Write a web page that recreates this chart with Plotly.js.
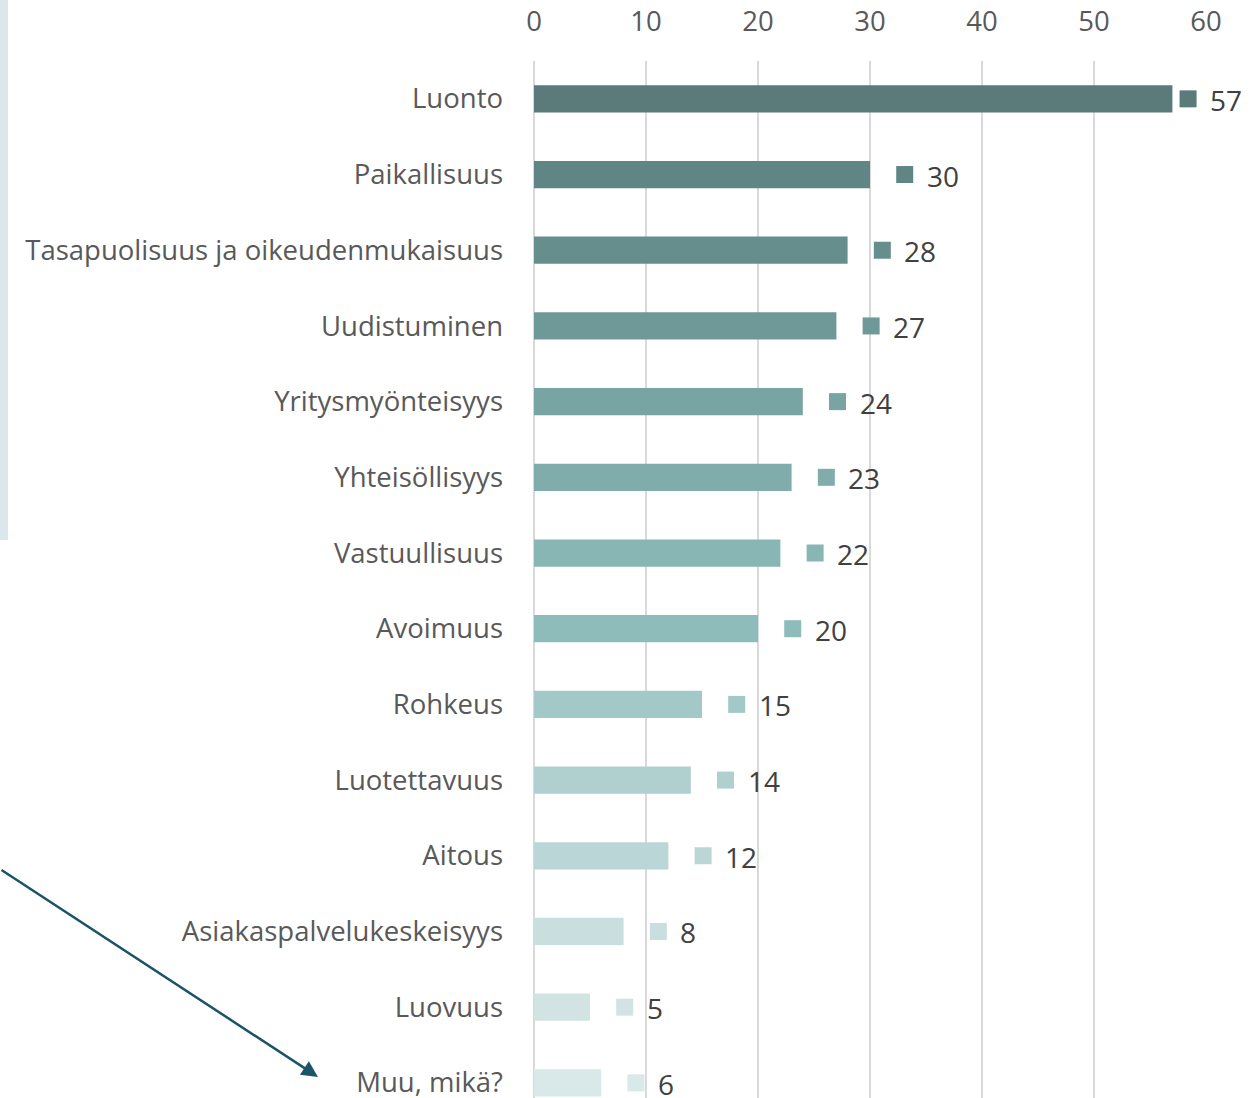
<!DOCTYPE html>
<html>
<head>
<meta charset="utf-8">
<script src="https://cdn.plot.ly/plotly-3.0.1.min.js"></script>
<style>html,body{margin:0;padding:0;background:#fff;}#chart{width:1255px;height:1098px;}</style>
</head>
<body>
<div id="chart"></div>
<script>
const categories = ["Luonto","Paikallisuus","Tasapuolisuus ja oikeudenmukaisuus","Uudistuminen","Yritysmyönteisyys","Yhteisöllisyys","Vastuullisuus","Avoimuus","Rohkeus","Luotettavuus","Aitous","Asiakaspalvelukeskeisyys","Luovuus","Muu, mikä?"];
const values = [57,30,28,27,24,23,22,20,15,14,12,8,5,6];
const colors = ["#5a7b7a","#5f8584","#668e8d","#6e9998","#78a4a3","#80adac","#87b6b5","#8ebcbb","#a3c8c8","#b0cfcf","#bbd6d6","#c9dfdf","#d2e3e3","#d9e8e8"];
const tickVals = [0,10,20,30,40,50,60];

const keyX = values.map(v => Math.min(v + 3.1, 58.4));

const bars = {
  type: 'bar', orientation: 'h',
  x: values, y: categories,
  marker: {color: colors},
  width: 0.36,
  hoverinfo: 'x+y'
};
const keys = {
  type: 'scatter', mode: 'markers',
  x: keyX, y: categories,
  marker: {symbol: 'square', size: 17, color: colors},
  cliponaxis: false,
  hoverinfo: 'skip'
};

const valueAnnotations = values.map((v, i) => ({
  xref: 'x', yref: 'y', x: keyX[i], y: categories[i],
  text: String(v), showarrow: false, xanchor: 'left', yanchor: 'middle',
  xshift: 20, yshift: -1,
  font: {family: 'Open Sans, sans-serif', size: 28, color: '#404040'}
}));

const layout = {
  width: 1255, height: 1098,
  margin: {l: 534, r: 49, t: 61, b: 0},
  paper_bgcolor: '#ffffff', plot_bgcolor: '#ffffff',
  showlegend: false,
  font: {family: 'Open Sans, sans-serif', color: '#595959'},
  xaxis: {
    side: 'top', range: [0, 60], tickvals: tickVals, ticktext: tickVals.map(String),
    showgrid: true, gridcolor: '#d9d9d9', gridwidth: 2, zeroline: true, zerolinecolor: '#d9d9d9', zerolinewidth: 2,
    tickfont: {size: 27.5, color: '#595959'}, ticks: '', ticklen: 0, showline: false, fixedrange: true,
    ticklabelstandoff: 24
  },
  yaxis: {
    type: 'category', autorange: false, range: [13.2, -0.5],
    tickfont: {size: 27.5, color: '#595959'}, ticks: '', showgrid: false, zeroline: false,
    ticklabelstandoff: 30, fixedrange: true
  },
  shapes: [{
    type: 'rect', xref: 'paper', yref: 'paper',
    x0: -0.7946, x1: -0.7827, y0: 0.538, y1: 1.06,
    fillcolor: '#dbe7ed', line: {width: 0}, layer: 'below'
  }],
  annotations: valueAnnotations.concat([{
    xref: 'paper', yref: 'paper', x: -0.3214, y: 0.0203,
    axref: 'pixel', ayref: 'pixel', ax: -322, ay: -208,
    showarrow: true, arrowhead: 2, arrowsize: 1.3, arrowwidth: 2.5, arrowcolor: '#1a5468',
    text: ''
  }])
};

Plotly.newPlot('chart', [bars, keys], layout, {displayModeBar: false, staticPlot: true});
</script>
</body>
</html>
